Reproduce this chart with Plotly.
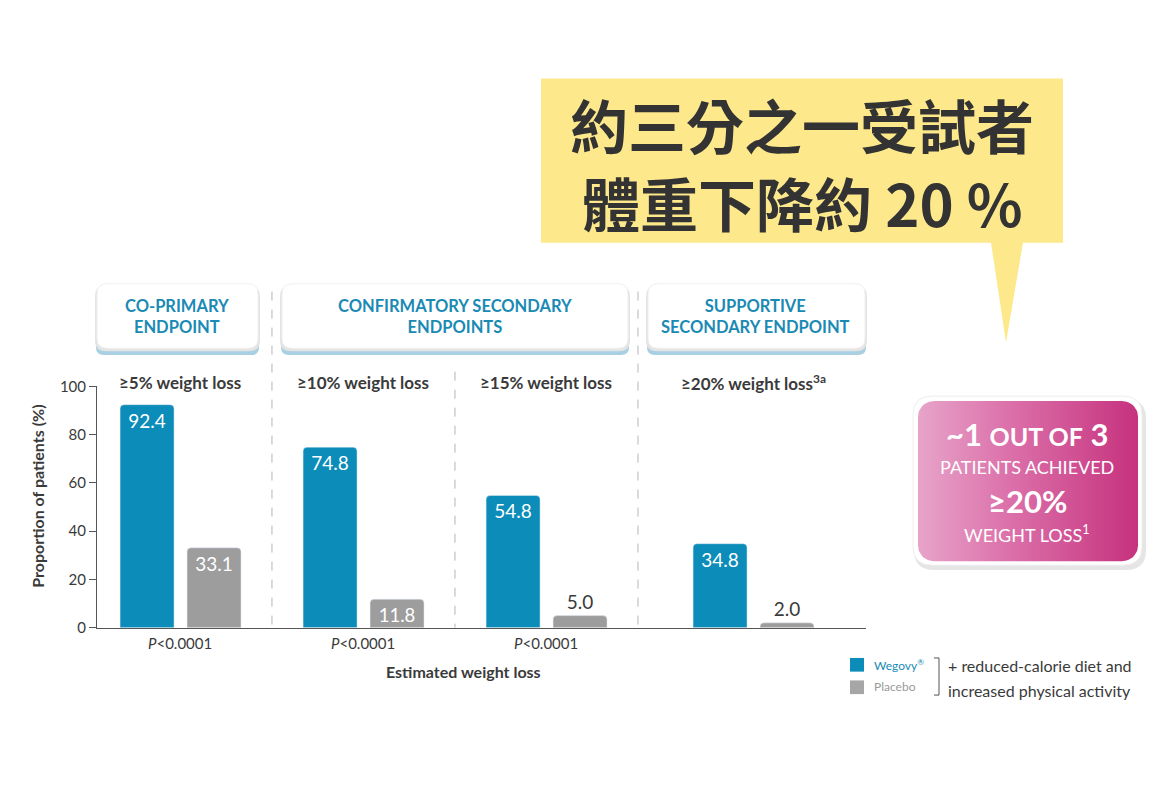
import numpy as np
import plotly.graph_objects as go

# data
groups = ["≥5% weight loss", "≥10% weight loss", "≥15% weight loss", "≥20% weight loss<sup>3a</sup>"]
wegovy = [92.4, 74.8, 54.8, 34.8]
placebo = [33.1, 11.8, 5.0, 2.0]
p_values = ["<i>P</i>&lt;0.0001", "<i>P</i>&lt;0.0001", "<i>P</i>&lt;0.0001", ""]
y_ticks = [0, 20, 40, 60, 80, 100]
headers = ["CO-PRIMARY<br>ENDPOINT", "CONFIRMATORY SECONDARY<br>ENDPOINTS", "SUPPORTIVE<br>SECONDARY ENDPOINT"]

# layout positions of the groups on the x axis (last group sits a bit further out)
group_pos = [0, 1, 2, 3.131]

OX, OY = 8, 8  # page body margin
W, H = 1164 - 2 * OX, 800 - 2 * OY
BLUE = "#0b8cb9"
GREY = "#9d9d9d"
TXT = "#3a3a3a"
FONT = "Lato"


def rrect(x0, y0, x1, y1, r):
    return (f"M {x0+r},{y0} H {x1-r} Q {x1},{y0} {x1},{y0+r} V {y1-r} "
            f"Q {x1},{y1} {x1-r},{y1} H {x0+r} Q {x0},{y1} {x0},{y1-r} "
            f"V {y0+r} Q {x0},{y0} {x0+r},{y0} Z")


def rrect_pts(x0, y0, x1, y1, r, n=12):
    xs, ys = [], []
    corners = [(x1 - r, y0 + r, -90, 0), (x1 - r, y1 - r, 0, 90),
               (x0 + r, y1 - r, 90, 180), (x0 + r, y0 + r, 180, 270)]
    for cx, cy, a0, a1 in corners:
        t = np.radians(np.linspace(a0, a1, n))
        xs += list(cx + r * np.cos(t))
        ys += list(cy + r * np.sin(t))
    return xs + [xs[0]], ys + [ys[0]]


fig = go.Figure()

fig.add_trace(go.Bar(
    x=group_pos, y=wegovy, width=0.295, offset=-0.33, marker_color=BLUE,
    texttemplate="%{y:.1f}", textposition="inside", insidetextanchor="end",
    textangle=0, insidetextfont=dict(color="white", size=19, family=FONT),
    showlegend=False, hoverinfo="skip"))

fig.add_trace(go.Bar(
    x=group_pos, y=placebo, width=0.295, offset=0.036, marker_color=GREY,
    texttemplate="%{y:.1f}", textposition=["inside", "inside", "outside", "outside"],
    insidetextanchor="end", textangle=0,
    insidetextfont=dict(color="white", size=19, family=FONT),
    outsidetextfont=dict(color=TXT, size=19, family=FONT),
    cliponaxis=False, showlegend=False, hoverinfo="skip"))

# pink callout box with gradient (pixel coords on overlay axes)
px_, py_ = rrect_pts(918, 400, 1138, 564, 16)
fig.add_trace(go.Scatter(
    x=px_, y=py_, xaxis="x2", yaxis="y2", mode="lines", line=dict(width=0),
    fill="toself", hoverinfo="skip", showlegend=False,
    fillgradient=dict(type="horizontal",
                      colorscale=[[0, "#e7a4c9"], [0.4, "#dc72ab"], [1, "#c6327e"]])))

shapes = []
# yellow speech bubble
shapes.append(dict(type="path", xref="x2", yref="y2", layer="below",
                   path="M 541,70 H 1063 V 238 H 1023 L 1006,340 L 991,238 H 541 Z",
                   fillcolor="#fde98b", line=dict(width=0)))

# header boxes
for x0, x1 in [(97, 258), (282, 628), (648, 865)]:
    shapes.append(dict(type="path", xref="x2", yref="y2", layer="below",
                       path=rrect(x0 - 1, 330, x1 + 1, 353, 8),
                       fillcolor="#a8cfe2", line=dict(width=0)))
    shapes.append(dict(type="path", xref="x2", yref="y2", layer="below",
                       path=rrect(x0 - 2, 282, x1 + 2, 349, 11),
                       fillcolor="#e4e4e4", line=dict(width=0)))
    shapes.append(dict(type="path", xref="x2", yref="y2", layer="below",
                       path=rrect(x0, 280, x1, 346, 10),
                       fillcolor="white", line=dict(width=1, color="#efefef")))

# pink box frame and shadow
shapes.append(dict(type="path", xref="x2", yref="y2", layer="below",
                   path=rrect(914, 398, 1146, 573, 20),
                   fillcolor="rgba(0,0,0,0.10)", line=dict(width=0)))
shapes.append(dict(type="path", xref="x2", yref="y2", layer="below",
                   path=rrect(913, 395, 1142, 568, 19),
                   fillcolor="white", line=dict(width=1, color="#eeeeee")))

# dashed dividers
for xd, ytop in [(0.5, 288), (1.5, 370), (2.5, 288)]:
    shapes.append(dict(type="line", xref="x", yref="y2", x0=xd, x1=xd, y0=ytop, y1=632,
                       line=dict(color="#b5b5b5", width=1, dash="dash")))

# legend swatches and bracket
shapes.append(dict(type="rect", xref="x2", yref="y2", x0=850, x1=864, y0=663, y1=677,
                   fillcolor=BLUE, line=dict(width=0)))
shapes.append(dict(type="rect", xref="x2", yref="y2", x0=850, x1=864, y0=686, y1=700,
                   fillcolor="#a6a6a6", line=dict(width=0)))
shapes.append(dict(type="path", xref="x2", yref="y2",
                   path="M 934,663 L 939,663 L 939,701 L 934,701",
                   line=dict(color="#555", width=1)))

ann = []
for pos, g, p in zip(group_pos, groups, p_values):
    ann.append(dict(x=pos, y=381, xref="x", yref="y2", text=f"<b>{g}</b>", showarrow=False,
                    font=dict(size=17, color=TXT, family=FONT)))
    if p:
        ann.append(dict(x=pos, y=648, xref="x", yref="y2", text=p, showarrow=False,
                        font=dict(size=15, color=TXT, family=FONT)))

for xc, h in zip([177, 455, 755], headers):
    ann.append(dict(x=xc, y=313, xref="x2", yref="y2", text=f"<b>{h}</b>", showarrow=False,
                    font=dict(size=16.5, color="#1a8ab4", family=FONT)))

ann += [
    dict(x=463, y=677, xref="x2", yref="y2", text="<b>Estimated weight loss</b>",
         showarrow=False, font=dict(size=16, color=TXT, family=FONT)),
    dict(x=38, y=498, xref="x2", yref="y2", text="<b>Proportion of patients (%)</b>",
         textangle=-90, showarrow=False, font=dict(size=16, color=TXT, family=FONT)),
    dict(x=802, y=116, xref="x2", yref="y2", text="<b>約三分之一受試者</b>", showarrow=False,
         font=dict(size=58, color="#333333", family="Noto Sans CJK TC")),
    dict(x=802, y=196, xref="x2", yref="y2", text="<b>體重下降約 20 %</b>", showarrow=False,
         font=dict(size=58, color="#333333", family="Noto Sans CJK TC")),
    dict(x=1027, y=434, xref="x2", yref="y2",
         text='<b>~1 <span style="font-size:25px">OUT OF</span> 3</b>', showarrow=False,
         font=dict(size=31, color="white", family=FONT)),
    dict(x=1027, y=468, xref="x2", yref="y2", text="PATIENTS ACHIEVED", showarrow=False,
         font=dict(size=18, color="white", family=FONT)),
    dict(x=1027, y=502, xref="x2", yref="y2", text="<b>≥20%</b>", showarrow=False,
         font=dict(size=31, color="white", family=FONT)),
    dict(x=1027, y=536, xref="x2", yref="y2", text="WEIGHT LOSS<sup>1</sup>", showarrow=False,
         font=dict(size=18, color="white", family=FONT)),
    dict(x=872, y=670, xref="x2", yref="y2", xanchor="left", text="Wegovy<sup>®</sup>",
         showarrow=False, font=dict(size=12, color="#1a8ab4", family=FONT)),
    dict(x=872, y=692, xref="x2", yref="y2", xanchor="left", text="Placebo",
         showarrow=False, font=dict(size=12, color="#9a9a9a", family=FONT)),
    dict(x=946, y=671, xref="x2", yref="y2", xanchor="left", text="+ reduced-calorie diet and",
         showarrow=False, font=dict(size=16, color=TXT, family=FONT)),
    dict(x=946, y=696, xref="x2", yref="y2", xanchor="left", text="increased physical activity",
         showarrow=False, font=dict(size=16, color=TXT, family=FONT)),
]

fig.update_layout(
    width=W, height=H, margin=dict(l=0, r=0, t=0, b=0),
    paper_bgcolor="white", plot_bgcolor="rgba(0,0,0,0)",
    barcornerradius=4, shapes=shapes, annotations=ann,
    font=dict(family=FONT, color=TXT),
    xaxis=dict(domain=[(97 - OX) / W, (866 - OX) / W], range=[-0.456, 3.746],
               showticklabels=False, showgrid=False, zeroline=False, showline=True,
               linecolor="#555", linewidth=1, fixedrange=True),
    yaxis=dict(domain=[(H + OY - 632) / H, (H + OY - 385) / H], range=[0, 100],
               tickvals=y_ticks, ticks="outside", ticklen=7, tickcolor="#555",
               showgrid=False, zeroline=False, showline=True, linecolor="#555", linewidth=1,
               tickfont=dict(size=15, color=TXT, family=FONT), fixedrange=True),
    xaxis2=dict(domain=[0, 1], range=[OX, W + OX], visible=False, anchor="y2", fixedrange=True),
    yaxis2=dict(domain=[0, 1], range=[H + OY, OY], visible=False, anchor="x2", fixedrange=True),
)

fig.write_html("out.html")
